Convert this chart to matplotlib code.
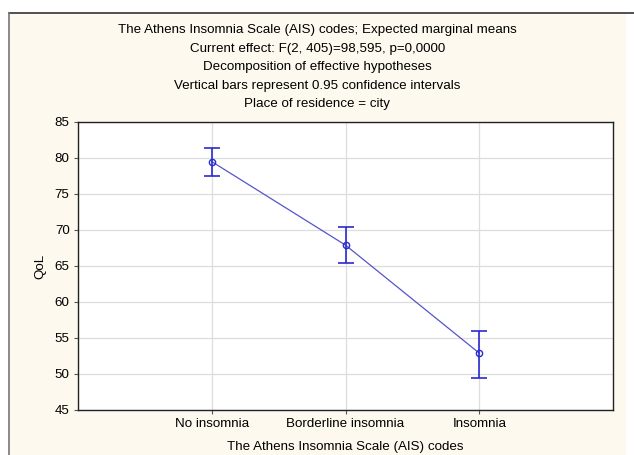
import matplotlib.pyplot as plt
from matplotlib.lines import Line2D
from matplotlib.patches import Rectangle

categories = ['No insomnia', 'Borderline insomnia', 'Insomnia']
means = [79.5, 67.9, 52.9]
ci_low = [77.5, 65.4, 49.4]
ci_high = [81.4, 70.4, 56.0]

titles = ['The Athens Insomnia Scale (AIS) codes; Expected marginal means',
          'Current effect: F(2, 405)=98,595, p=0,0000',
          'Decomposition of effective hypotheses',
          'Vertical bars represent 0.95 confidence intervals',
          'Place of residence = city']

plt.rcParams['font.family'] = ['Liberation Sans', 'DejaVu Sans']

W, H = 634, 455
fs = 9.6
fig = plt.figure(figsize=(W / 100, H / 100), dpi=100)
fig.patch.set_facecolor('white')

# cream panel with top/left border
fig.patches.append(Rectangle((9 / W, 0), (626 - 9) / W, 1 - 13 / H,
                             transform=fig.transFigure, facecolor='#fdf9ee',
                             edgecolor='none', zorder=-5))
fig.lines.append(Line2D([9 / W, 1], [1 - 13 / H, 1 - 13 / H], transform=fig.transFigure,
                        color='#333333', lw=1.2, zorder=-4))
fig.lines.append(Line2D([9 / W, 9 / W], [0, 1 - 13 / H], transform=fig.transFigure,
                        color='#777777', lw=1.2, zorder=-4))

ax = fig.add_axes([78 / W, 1 - 410 / H, (613 - 78) / W, (410 - 122) / H])
ax.set_facecolor('white')

x = [1, 2, 3]
yerr = [[m - lo for m, lo in zip(means, ci_low)], [hi - m for m, hi in zip(means, ci_high)]]
ax.plot(x, means, color='#5555cc', lw=0.9, zorder=3)
ax.errorbar(x, means, yerr=yerr, fmt='o', ms=4.5, mfc='none', mec='#2a2ad0',
            ecolor='#2a2ad0', elinewidth=1.2, capsize=6, capthick=1.2, zorder=4)

ax.set_xlim(0, 4)
ax.set_ylim(45, 85)
ax.set_yticks(range(45, 90, 5))
ax.set_xticks(x)
ax.set_xticklabels(categories)
ax.grid(True, color='#dddddd', lw=0.9)
ax.set_axisbelow(True)
for s in ax.spines.values():
    s.set_color('#222222')
    s.set_linewidth(1.0)
ax.tick_params(labelsize=fs, length=3, color='#555555', pad=3)
ax.set_ylabel('QoL', fontsize=fs, labelpad=6)
ax.set_xlabel('The Athens Insomnia Scale (AIS) codes', fontsize=fs, labelpad=8)

for i, t in enumerate(titles):
    fig.text(0.5 * (9 + 626) / W, 1 - (30 + i * 18.6) / H, t, ha='center', va='center', fontsize=fs)

fig.savefig('out.png', dpi=100)
